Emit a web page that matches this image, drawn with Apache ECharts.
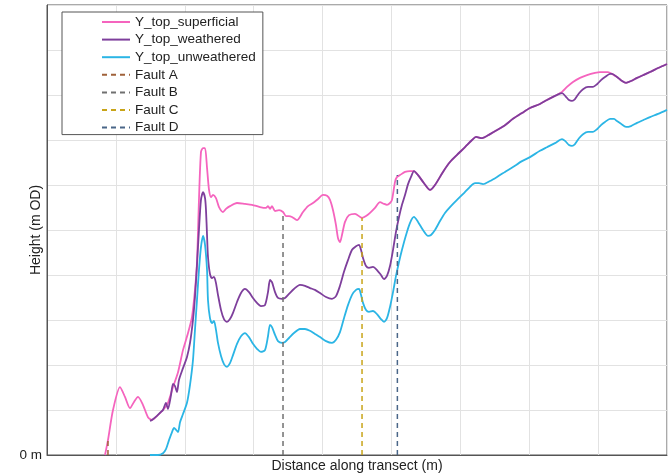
<!DOCTYPE html>
<html>
<head>
<meta charset="utf-8">
<script src="https://cdn.jsdelivr.net/npm/echarts@6/dist/echarts.min.js"></script>
<style>
html,body{margin:0;padding:0;background:#fff;}
#chart{width:671px;height:474px;}
</style>
</head>
<body>
<div id="chart"></div>
<script>
// Distance along transect (m) and heights (m OD)
const supX = [84.2,88.5,95.8,106.0,113.2,120.5,126.3,132.1,139.4,146.6,152.4,159.7,168.4,175.6,182.9,190.2,197.4,204.7,210.5,214.8,217.7,220.6,223.5,226.5,229.4,232.3,235.2,238.1,241.0,245.3,249.7,255.5,259.8,265.6,275.8,287.4,297.6,309.2,317.9,320.8,323.7,326.6,331.0,336.8,342.6,346.9,351.3,355.6,362.9,371.6,378.9,386.1,393.4,400.6,406.5,410.8,415.2,419.5,422.4,425.3,428.2,432.6,438.4,447.1,457.3,463.1,468.9,476.1,483.4,489.2,493.5,497.9,500.8,505.2,508.1,512.4,519.7,527.0,532.7,538.6,547.3,556.0,563.2,574.8,585.0,595.2,606.8,617.0,622.8,631.5,643.1,653.3,664.8,676.4,689.5,701.1,715.6,725.8,737.4,747.6,754.8,763.5,773.7,783.9,795.5,802.7,814.4,820.2,827.4,833.2,840.5,847.7,856.5,865.2,875.3,887.0,900];
const supY = [0,3.3,10.0,15.1,12.9,10.4,11.8,12.9,11.1,8.4,7.8,8.7,10.0,11.6,15.1,18.4,23.3,27.1,30.7,36.7,42.7,56.7,67.3,68.2,68.2,63.8,58.9,57.3,57.8,57.1,55.1,54.0,54.7,55.3,56.0,55.8,55.6,55.1,54.9,55.3,54.7,55.3,54.2,54.4,54.0,53.1,53.1,52.9,52.2,54.0,55.3,56.0,56.9,57.8,57.6,56.7,54.4,51.1,48.2,47.3,48.9,51.8,53.3,53.6,52.7,53.1,53.8,54.9,56.2,55.8,55.6,56.0,56.7,60.7,61.8,62.2,62.9,63.1,63.1,62.2,60.4,58.9,60.0,62.9,65.1,66.7,68.4,70.0,70.7,70.4,71.3,72.2,73.3,74.7,76.0,77.1,78.0,78.9,79.8,80.7,81.8,82.9,83.8,84.4,84.9,85.1,85.1,84.7,84.0,83.3,82.7,83.1,83.8,84.4,85.1,86.0,86.9];

const weaX = [149.5,152.4,159.7,165.5,168.4,172.7,175.6,180.0,182.9,185.8,188.7,191.6,197.4,203.2,207.6,211.9,214.8,217.7,220.6,223.5,226.5,229.4,230.8,232.3,233.7,236.6,239.5,242.4,245.3,248.2,252.6,256.9,261.3,265.6,270.0,275.8,281.6,287.4,293.2,299.0,304.8,310.6,316.4,320.8,323.7,326.6,331.0,335.3,341.1,345.5,351.3,358.5,367.2,374.5,381.7,389.0,396.3,405.0,413.7,419.5,425.3,431.1,436.9,442.8,448.6,452.9,455.8,458.7,463.1,467.4,473.2,479.0,484.8,489.2,493.5,497.9,502.3,506.6,511.0,515.3,519.7,524.1,528.4,532.7,538.6,547.3,556.0,563.2,574.8,585.0,595.2,606.8,617.0,622.8,631.5,643.1,653.3,664.8,676.4,689.5,701.1,715.6,725.8,737.4,747.6,753.4,757.7,762.1,766.4,772.3,778.1,785.3,792.6,798.4,804.2,810.0,817.3,820.2,827.4,833.2,840.5,847.7,856.5,865.2,875.3,887.0,900];
const weaY = [7.6,7.8,8.7,9.6,10.0,11.6,10.2,13.3,15.8,15.3,14.0,16.7,19.3,21.8,24.9,30.0,35.1,42.2,50.0,56.7,58.4,57.1,54.4,48.9,44.0,40.2,39.3,39.6,38.2,35.6,32.2,30.2,29.6,30.2,31.6,34.0,36.0,36.9,36.2,34.9,33.8,33.1,33.3,36.2,38.9,38.4,36.2,34.9,34.7,34.9,35.8,36.9,37.8,37.6,37.1,36.7,36.0,35.1,34.7,35.3,37.6,40.7,43.3,45.6,46.4,46.7,45.6,43.8,42.0,41.6,41.8,41.1,40.0,39.1,39.8,42.0,45.6,49.6,52.9,55.6,57.8,60.2,61.8,63.1,62.2,60.4,58.9,60.0,62.9,65.1,66.7,68.4,70.0,70.7,70.4,71.3,72.2,73.3,74.7,76.0,77.1,78.0,78.9,79.8,80.4,79.6,78.9,78.7,79.1,80.4,81.3,81.8,81.8,82.4,83.3,84.0,84.7,84.7,84.0,83.3,82.7,83.1,83.8,84.4,85.1,86.0,86.9];

const unwX = [149.5,161.1,168.4,172.7,177.1,181.5,184.4,187.3,190.2,193.1,197.4,203.2,207.6,211.9,214.8,217.7,220.6,223.5,226.5,229.4,232.3,233.7,236.6,239.5,242.4,245.3,248.2,252.6,256.9,261.3,265.6,270.0,275.8,281.6,287.4,293.2,299.0,304.8,310.6,316.4,320.8,323.7,326.6,331.0,335.3,341.1,345.5,351.3,358.5,367.2,374.5,381.7,389.0,396.3,405.0,413.7,419.5,425.3,431.1,436.9,442.8,448.6,452.9,455.8,458.7,463.1,467.4,473.2,479.0,484.8,489.2,493.5,497.9,502.3,506.6,511.0,515.3,521.2,527.0,532.7,538.6,545.8,553.1,557.4,563.2,570.5,577.7,585.0,595.2,605.3,614.0,621.3,627.1,632.9,643.1,653.3,664.8,676.4,689.5,701.1,715.6,725.8,737.4,747.6,752.0,757.7,762.1,766.4,772.3,778.1,785.3,792.6,798.4,804.2,810.0,817.3,823.1,827.4,833.2,840.5,847.7,856.5,865.2,875.3,887.0,900];
const unwY = [0,0,0.4,1.3,3.3,5.1,6.0,5.6,5.1,7.3,9.1,11.6,15.6,21.1,27.8,34.4,41.1,46.2,48.7,46.7,41.1,34.4,30.4,29.3,29.8,27.8,24.9,22.0,20.2,19.6,20.4,22.2,24.7,26.4,27.1,26.2,24.7,23.6,22.9,23.3,26.4,28.9,28.4,26.7,25.3,24.9,25.1,26.0,27.1,28.0,28.0,27.6,26.9,26.2,25.3,24.9,25.6,27.3,30.4,33.3,35.6,36.7,36.9,35.6,33.8,32.2,31.8,32.0,31.3,30.2,29.6,30.4,32.9,36.2,39.8,42.9,45.6,48.9,51.6,52.9,51.8,50.0,48.7,48.9,50.0,52.0,53.8,55.1,56.7,58.2,59.6,60.4,60.4,60.2,60.9,61.8,62.9,64.0,65.3,66.2,67.6,68.4,69.3,70.2,69.8,68.9,68.7,69.1,70.4,71.3,71.8,71.8,72.4,73.3,74.0,74.7,74.7,74.2,73.6,72.9,73.1,73.8,74.4,75.1,75.8,76.7];

const faultNames = ['Fault A','Fault B','Fault C','Fault D'];
const faultX = [88.5,342.6,457.3,508.6];
const faultTop = [3.9,54.0,52.7,62.2];

const surfaceNames = ['Y_top_superficial','Y_top_weathered','Y_top_unweathered'];
const surfaceColors = ['#f564be','#7e3f9c','#2bb5e5'];
const faultColors = ['#a0623a','#707070','#c8a418','#4a6688'];

const zip = (xs, ys) => xs.map((x, i) => [x, ys[i]]);
const surfaces = [zip(supX, supY), zip(weaX, weaY), zip(unwX, unwY)];

const series = [];
surfaces.forEach((d, i) => {
  series.push({
    name: surfaceNames[i], type: 'line', data: d, symbol: 'none', smooth: 0.25,
    lineStyle: {color: surfaceColors[i], width: 1.8}, itemStyle: {color: surfaceColors[i]}
  });
});
faultX.forEach((x, i) => {
  series.push({
    name: faultNames[i], type: 'line', data: [[x, 0], [x, faultTop[i]]], symbol: 'none',
    lineStyle: {color: faultColors[i], width: 1.5, type: [5, 4]}, itemStyle: {color: faultColors[i]}
  });
});

const chart = echarts.init(document.getElementById('chart'), null, {renderer: 'canvas'});
chart.setOption({
  animation: false,
  backgroundColor: '#fff',
  textStyle: {fontFamily: 'Liberation Sans, Arial, sans-serif'},
  grid: {left: 47, right: 4, top: 5, bottom: 19, show: true, borderColor: '#555', borderWidth: 1,
         containLabel: false, outerBoundsMode: 'none'},
  legend: {
    orient: 'vertical', left: 62, top: 12,
    padding: [3, 7, 0, 39],
    itemWidth: 28, itemHeight: 10, itemGap: 3.6,
    itemStyle: {opacity: 0},
    borderColor: '#555', borderWidth: 1, backgroundColor: '#fff',
    textStyle: {fontSize: 13.5, color: '#222'},
    data: surfaceNames.concat(faultNames)
  },
  xAxis: {
    type: 'value', min: 0, max: 900, interval: 100,
    name: 'Distance along transect (m)', nameLocation: 'middle', nameGap: 4,
    nameTextStyle: {fontSize: 14, color: '#222', verticalAlign: 'top'},
    axisLine: {show: true, lineStyle: {color: '#555'}},
    axisTick: {show: false}, axisLabel: {show: false},
    splitLine: {show: true, lineStyle: {color: '#e2e2e2'}}
  },
  yAxis: {
    type: 'value', min: 0, max: 100, interval: 10,
    name: 'Height (m OD)', nameLocation: 'middle', nameGap: 4, nameMoveOverlap: false,
    nameTextStyle: {fontSize: 14, color: '#222'},
    axisLine: {show: true, lineStyle: {color: '#555'}},
    axisTick: {show: false},
    axisLabel: {formatter: v => v === 0 ? '0 m' : '', fontSize: 13.5, color: '#222', margin: 5, padding: [3, 0, 0, 0]},
    splitLine: {show: true, lineStyle: {color: '#e2e2e2'}}
  },
  series: series
});
</script>
</body>
</html>
